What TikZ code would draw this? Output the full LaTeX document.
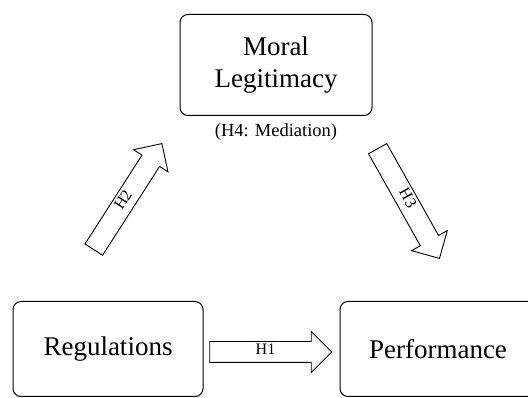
\documentclass[tikz,border=0pt]{standalone}
\usepackage{fontspec}
\setmainfont{Liberation Serif}
\usetikzlibrary{positioning}
\usetikzlibrary{shapes.arrows}
\usetikzlibrary{calc}

\begin{document}
\begin{tikzpicture}
    [
    x=1pt, y=1pt,
    node distance=284pt and 330pt,
    on grid,
    varbox/.style={draw, line width=1pt, rounded corners=8pt, align=center,
        font=\fontsize{27}{32}\selectfont},
    hypothesis/.style={single arrow, draw, line width=0.9pt, fill=white,
        single arrow head extend=10pt, single arrow tip angle=90,
        inner xsep=0pt, inner ysep=0pt, text height=13pt, text depth=7pt,
        font=\fontsize{16}{19}\selectfont},
    ]
    \useasboundingbox (0,0) rectangle (528,398);
    \clip (0,0) rectangle (528,398);

    \node[varbox, minimum width=190pt, minimum height=95pt] (var_reg) at (108,49)
    {Regulations};

    \node[varbox, minimum width=210pt, minimum height=95pt, right = 337pt of var_reg] (var_perf)
    {\hspace*{-14pt}Performance};

    \node[varbox, minimum width=192pt, minimum height=101pt, above right = 284pt and 168pt of var_reg] (var_moral)
    {Moral\\Legitimacy};

    \node[below = 67pt of var_moral, font=\fontsize{18.5}{22}\selectfont] (lbl_med)
    {(H4: Mediation)};

    \node[hypothesis, minimum height=122pt, xshift=-11pt, yshift=-3pt] (hyp_one) at ($(var_reg)!0.5!(var_perf)$)
    {H1};

    \node[hypothesis, minimum height=126pt, rotate=57.3] (hyp_two) at (125,197)
    {H2};

    \node[hypothesis, minimum height=126pt, rotate=-60.6] (hyp_three) at (406,199)
    {H3};
\end{tikzpicture}
\end{document}
